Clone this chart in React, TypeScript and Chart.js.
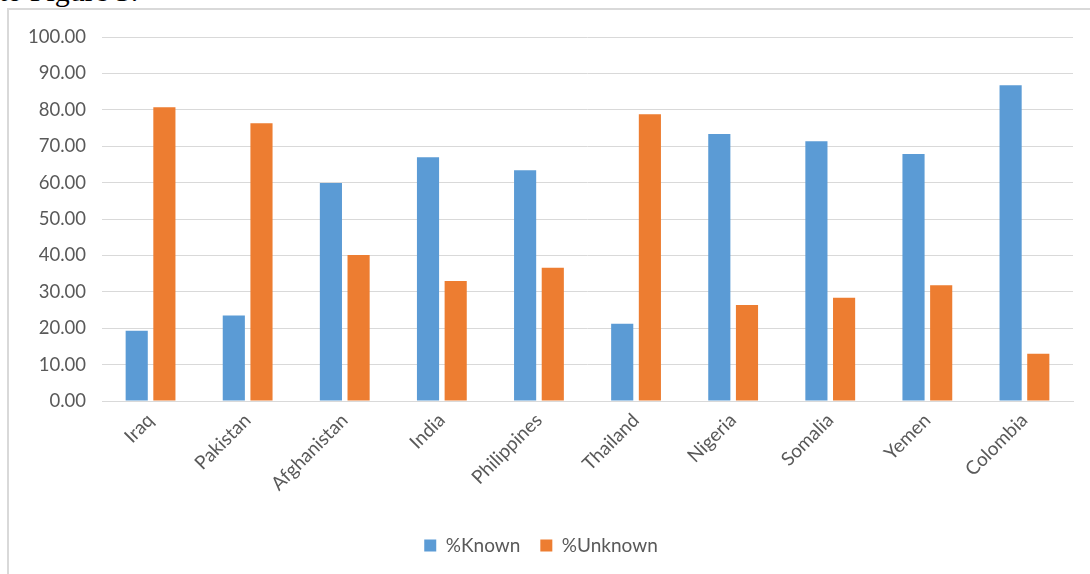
import React, { useEffect, useRef } from "react";
import { Chart, registerables } from "chart.js";

Chart.register(...registerables);

const categories = ["Iraq", "Pakistan", "Afghanistan", "India", "Philippines", "Thailand", "Nigeria", "Somalia", "Yemen", "Colombia"];
const knownValues = [19.3, 23.5, 59.9, 67.0, 63.4, 21.2, 73.4, 71.4, 67.9, 86.8];
const unknownValues = [80.7, 76.3, 40.1, 33.0, 36.6, 78.8, 26.4, 28.4, 31.8, 13.0];
const yTicks = [0, 10, 20, 30, 40, 50, 60, 70, 80, 90, 100];

const FONT = "Lato, 'Open Sans', sans-serif";

export default function App() {
  const ref = useRef<HTMLCanvasElement | null>(null);

  useEffect(() => {
    if (!ref.current) return;
    const chart = new Chart(ref.current, {
      type: "bar",
      data: {
        labels: categories,
        datasets: [
          {
            label: "%Known",
            data: knownValues,
            backgroundColor: "#5B9BD5",
            borderColor: "#5B9BD5",
            borderWidth: 0,
            barPercentage: 0.8,
            categoryPercentage: 0.57,
          },
          {
            label: "%Unknown",
            data: unknownValues,
            backgroundColor: "#ED7D31",
            borderColor: "#ED7D31",
            borderWidth: 0,
            barPercentage: 0.8,
            categoryPercentage: 0.57,
          },
        ],
      },
      options: {
        animation: false,
        responsive: false,
        maintainAspectRatio: false,
        layout: { padding: { left: 0, right: 17, top: 14, bottom: 9 } },
        plugins: {
          tooltip: { enabled: false },
          legend: {
            position: "bottom",
            labels: {
              color: "#595959",
              font: { family: FONT, size: 19 },
              boxWidth: 12,
              boxHeight: 12,
              padding: 20,
            },
          },
        },
        scales: {
          x: {
            grid: { display: false, drawTicks: false },
            border: { display: true, color: "#D9D9D9", width: 1 },
            ticks: {
              color: "#595959",
              font: { family: FONT, size: 19 },
              minRotation: 45,
              maxRotation: 45,
              padding: 8,
              autoSkip: false,
            },
            afterFit: (scale: any) => {
              scale.height = 115;
            },
          },
          y: {
            min: 0,
            max: 100,
            afterBuildTicks: (scale: any) => {
              scale.ticks = yTicks.map((v) => ({ value: v }));
            },
            grid: { color: "#D9D9D9", lineWidth: 1, drawTicks: false },
            border: { display: false },
            ticks: {
              color: "#595959",
              font: { family: FONT, size: 18.5 },
              padding: 16,
              callback: (v: any) => Number(v).toFixed(2),
            },
            afterFit: (scale: any) => {
              scale.width = 93;
            },
          },
        },
      },
    });
    return () => chart.destroy();
  }, []);

  return (
    <div>
      <div
        style={{
          position: "absolute",
          left: -1,
          top: -24,
          fontFamily: "'Liberation Serif', serif",
          fontSize: 30,
          lineHeight: "30px",
          whiteSpace: "nowrap",
        }}
      >
        to Figure 3.
      </div>
      <div
        style={{
          position: "absolute",
          left: 7,
          top: 8,
          width: 1081,
          height: 566,
          borderTop: "2px solid #D9D9D9",
          borderLeft: "2px solid #D9D9D9",
          background: "#fff",
        }}
      >
        <canvas ref={ref} width={1081} height={564} style={{ display: "block" }} />
      </div>
    </div>
  );
}
